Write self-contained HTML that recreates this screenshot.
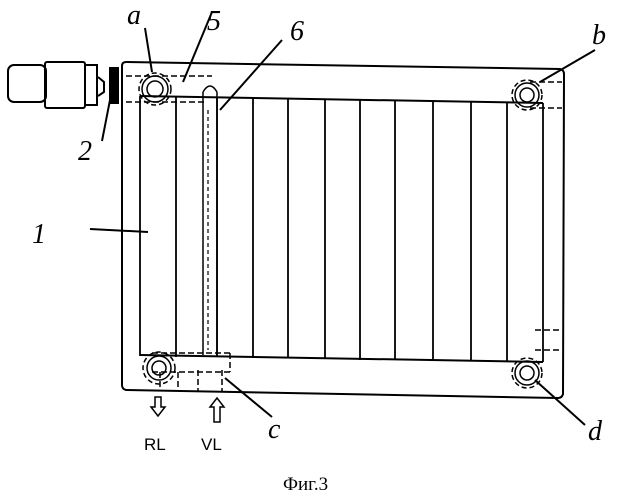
<!DOCTYPE html>
<html><head><style>body{margin:0;background:#fff}svg{display:block}</style></head><body>
<svg width="628" height="500" viewBox="0 0 628 500" xmlns="http://www.w3.org/2000/svg" font-family="Liberation Sans, sans-serif">
<g fill="none" stroke="#000" stroke-width="2">
<!-- frame -->
<path d="M126,62 L560,69 Q564,70 564,74 L563,394 Q562,398 558,398 L126,390 Q122,389 122,385 L122,66 Q122,62 126,62 Z"/>
<!-- panels top/bottom -->
<path d="M140,96 L543,103"/>
<path d="M140,355 L543,362"/>
<g stroke-width="1.8">
<path d="M140,96 V356"/><path d="M176,97 V357"/><path d="M217,97 V357"/><path d="M253,98 V358"/>
<path d="M288,98 V358"/><path d="M325,99 V359"/><path d="M360,99 V360"/><path d="M395,100 V360"/>
<path d="M433,101 V361"/><path d="M471,101 V361"/><path d="M507,102 V362"/><path d="M543,103 V362"/>
</g>
<!-- tube 6 -->
<path d="M203,92 V355 M217,92 V355" stroke-width="1.5"/>
<path d="M203,92 Q210,80 217,92" stroke-width="1.5"/>
<path d="M208,110 V350" stroke-dasharray="4,3" stroke-width="1.2"/>
<!-- top pipe dashed -->
<g stroke-dasharray="6,3" stroke-width="1.5">
<path d="M126,76 H212"/><path d="M126,102 H205"/>
<path d="M530,82 H562"/><path d="M530,108 H562"/>
<path d="M535,330 H562"/><path d="M535,350 H562"/>
<path d="M152,353 H230 M152,372 H230 M230,353 V372"/>
<path d="M160,372 V390 M178,372 V390 M198,370 V392 M222,370 V392"/>
</g>
<!-- circles -->
<g stroke-width="1.5">
<circle cx="155" cy="89" r="13"/><circle cx="155" cy="89" r="8"/><circle cx="155" cy="89" r="16" stroke-dasharray="5,3"/>
<circle cx="527" cy="95" r="12"/><circle cx="527" cy="95" r="7"/><circle cx="527" cy="95" r="15" stroke-dasharray="5,3"/>
<circle cx="527" cy="373" r="12"/><circle cx="527" cy="373" r="7"/><circle cx="527" cy="373" r="15" stroke-dasharray="5,3"/>
<circle cx="159" cy="368" r="12"/><circle cx="159" cy="368" r="7"/><circle cx="159" cy="368" r="16" stroke-dasharray="5,3"/>
</g>
<!-- valve -->
<rect x="8" y="65" width="38" height="37" rx="6"/>
<rect x="45" y="62" width="40" height="46" rx="2"/>
<rect x="85" y="65" width="12" height="40"/>
<path d="M98,77 L104,82 L104,92 L98,96"/>
<rect x="110" y="68" width="8" height="35" fill="#000"/>
<!-- leader lines -->
<path d="M145,28 L152,72"/><path d="M212,12 L183,82"/><path d="M282,40 L220,110"/>
<path d="M110,133 L100,140" stroke="none"/>
<path d="M90,229 L148,232"/>
<path d="M110,100 L102,141"/>
<path d="M595,50 L540,82"/>
<path d="M225,378 L272,417"/>
<path d="M535,380 L585,425"/>
<!-- arrows -->
<path d="M155,397 V407 H151 L158,416 L165,407 H161 V397 Z" stroke-width="1.5"/>
<path d="M214,422 V407 H210 L217,398 L224,407 H220 V422 Z" stroke-width="1.5"/>
</g>
<g font-family="Liberation Serif, serif" font-style="italic" font-size="28" fill="#000">
<text x="127" y="24">a</text><text x="207" y="30">5</text><text x="290" y="40">6</text>
<text x="592" y="44">b</text><text x="78" y="160">2</text><text x="32" y="243">1</text>
<text x="268" y="438">c</text><text x="588" y="440">d</text>
</g>
<text x="144" y="450" font-size="17">RL</text>
<text x="201" y="450" font-size="17">VL</text>
<text x="283" y="490" font-family="Liberation Serif, serif" font-size="19">Фиг.3</text>
</svg>
</body></html>
